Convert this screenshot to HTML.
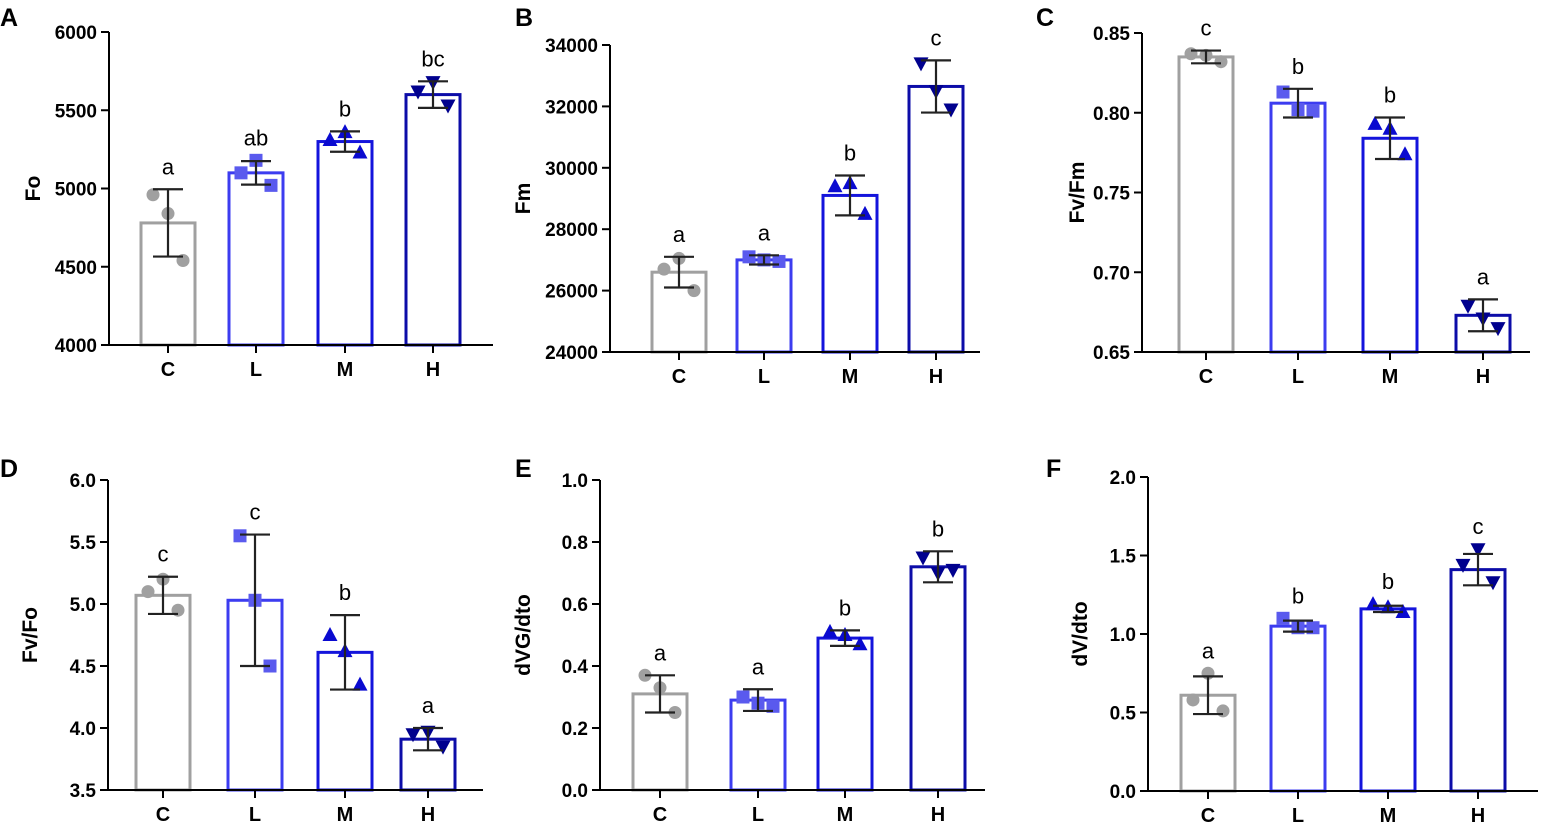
<!DOCTYPE html>
<html><head><meta charset="utf-8"><style>
body{margin:0;background:#fff;}
svg{display:block;font-family:"Liberation Sans",Arial,sans-serif;}
</style></head><body>
<svg id="fig" width="1552" height="832" viewBox="0 0 1552 832" xmlns="http://www.w3.org/2000/svg"></svg>
<script>
const categories = ["C","L","M","H"];
const aMeans=[4780,5100,5300,5600], aSd=[215,75,65,85], aPts=[[4960,4840,4540],[5100,5180,5020],[5310,5360,5230],[5620,5680,5530]], aLetters=["a","ab","b","bc"], aTicks=[4000,4500,5000,5500,6000];
const bMeans=[26600,27000,29100,32650], bSd=[500,150,650,850], bPts=[[26700,27050,26000],[27100,27000,26950],[29400,29500,28500],[33400,32500,31900]], bLetters=["a","a","b","c"], bTicks=[24000,26000,28000,30000,32000,34000];
const cMeans=[0.835,0.806,0.784,0.673], cSd=[0.004,0.009,0.013,0.01], cPts=[[0.837,0.836,0.832],[0.813,0.802,0.801],[0.793,0.790,0.774],[0.679,0.671,0.665]], cLetters=["c","b","b","a"], cTicks=[0.65,0.70,0.75,0.80,0.85];
const dMeans=[5.07,5.03,4.61,3.91], dSd=[0.15,0.53,0.3,0.09], dPts=[[5.1,5.2,4.95],[5.55,5.03,4.5],[4.75,4.62,4.35],[3.95,3.97,3.85]], dLetters=["c","c","b","a"], dTicks=[3.5,4.0,4.5,5.0,5.5,6.0];
const eMeans=[0.31,0.29,0.49,0.72], eSd=[0.06,0.035,0.025,0.05], ePts=[[0.37,0.33,0.25],[0.30,0.28,0.27],[0.51,0.50,0.47],[0.75,0.70,0.71]], eLetters=["a","a","b","b"], eTicks=[0,0.2,0.4,0.6,0.8,1.0];
const fMeans=[0.61,1.05,1.16,1.41], fSd=[0.12,0.035,0.02,0.1], fPts=[[0.58,0.75,0.51],[1.1,1.04,1.04],[1.19,1.17,1.14],[1.44,1.54,1.33]], fLetters=["a","b","b","c"], fTicks=[0,0.5,1.0,1.5,2.0];

const NS="http://www.w3.org/2000/svg";
const svg=document.getElementById('fig');
const barColors=["#a0a0a0","#3c3cf0","#1414dc","#0c0ca8"];
const ptColors=["#a0a0a0","#5a5aee","#0a0ad0","#00008e"];
function mk(tag,attrs,parent){const e=document.createElementNS(NS,tag);for(const k in attrs)e.setAttribute(k,attrs[k]);(parent||svg).appendChild(e);return e;}

const panels=[
 {id:"a",L:"A",lx:0,ly:26,title:"Fo",tx:40,ax:109,top:32,bot:345,end:493,cx:[168,256,345,433],m:aMeans,sd:aSd,p:aPts,let:aLetters,ticks:aTicks,dec:0},
 {id:"b",L:"B",lx:515,ly:26,title:"Fm",tx:530,ax:610,top:45,bot:352,end:980,cx:[679,764,850,936],m:bMeans,sd:bSd,p:bPts,let:bLetters,ticks:bTicks,dec:0},
 {id:"c",L:"C",lx:1036,ly:26,title:"Fv/Fm",tx:1084,ax:1142,top:33,bot:352,end:1530,cx:[1206,1298,1390,1483],m:cMeans,sd:cSd,p:cPts,let:cLetters,ticks:cTicks,dec:2},
 {id:"d",L:"D",lx:0,ly:477,title:"Fv/Fo",tx:37,ax:108,top:480,bot:790,end:483,cx:[163,255,345,428],m:dMeans,sd:dSd,p:dPts,let:dLetters,ticks:dTicks,dec:1},
 {id:"e",L:"E",lx:515,ly:477,title:"dVG/dto",tx:530,ax:600,top:480,bot:790,end:985,cx:[660,758,845,938],m:eMeans,sd:eSd,p:ePts,let:eLetters,ticks:eTicks,dec:1},
 {id:"f",L:"F",lx:1046,ly:477,title:"dV/dto",tx:1087,ax:1148,top:477,bot:791,end:1538,cx:[1208,1298,1388,1478],m:fMeans,sd:fSd,p:fPts,let:fLetters,ticks:fTicks,dec:1}
];

panels.forEach(P=>{
 const g=mk('g',{});
 
 
 const t0=P.ticks[0], t1=P.ticks[P.ticks.length-1];
 const y=v=>P.bot-(v-t0)/(t1-t0)*(P.bot-P.top);
 const lab=mk('text',{x:P.lx,y:P.ly,'font-size':25,'font-weight':'bold',fill:'#000'},g);lab.textContent=P.L;
 
 
 const ty=(P.top+P.bot)/2;
 const tt=mk('text',{x:P.tx,y:ty,'font-size':21,'font-weight':'bold','text-anchor':'middle',transform:`rotate(-90 ${P.tx} ${ty})`},g);tt.textContent=P.title;
 
 
 const bw=57;
 categories.forEach((c,i)=>{
  const cx=P.cx[i], yt=y(P.m[i]);
  const bar=mk('rect',{x:cx-bw/2+1.5,y:yt,width:bw-3,height:P.bot-yt,fill:'none',stroke:barColors[i],'stroke-width':3},g);
  
  
  P.p[i].forEach((v,j)=>{
   const px=cx+(j-1)*15, py=y(v); let s;
   if(i==0) s=mk('circle',{cx:px,cy:py,r:6.5,fill:ptColors[i]},g);
   else if(i==1) s=mk('rect',{x:px-6.5,y:py-6.5,width:13,height:13,fill:ptColors[i]},g);
   else if(i==2) s=mk('polygon',{points:`${px},${py-8} ${px-7.5},${py+6} ${px+7.5},${py+6}`,fill:ptColors[i]},g);
   else s=mk('polygon',{points:`${px},${py+8} ${px-7.5},${py-6} ${px+7.5},${py-6}`,fill:ptColors[i]},g);
   
   
  });
  const hi=y(P.m[i]+P.sd[i]), lo=y(P.m[i]-P.sd[i]);
  const eb=mk('path',{d:`M${cx},${hi}V${lo}M${cx-15},${hi}H${cx+15}M${cx-15},${lo}H${cx+15}`,stroke:'#222','stroke-width':2.2,fill:'none'},g);
  
  
  const sl=mk('text',{x:cx,y:Math.min(hi,y(Math.max(...P.p[i])))-15,'font-size':22,'text-anchor':'middle'},g);sl.textContent=P.let[i];
  
  
  mk('line',{x1:cx,x2:cx,y1:P.bot,y2:P.bot+8,stroke:'#000','stroke-width':2},g);
  const xl=mk('text',{x:cx,y:P.bot+31,'font-size':20,'font-weight':'bold','text-anchor':'middle'},g);xl.textContent=c;
  
  
 });
 P.ticks.forEach(v=>{
  const yy=y(v);
  mk('line',{x1:P.ax-8,x2:P.ax,y1:yy,y2:yy,stroke:'#000','stroke-width':2},g);
  const tl=mk('text',{x:P.ax-12,y:yy+7,'font-size':19,'font-weight':'bold','text-anchor':'end'},g);tl.textContent=v.toFixed(P.dec);
  
  
 });
 const axes=mk('path',{d:`M${P.ax},${P.top}V${P.bot}H${P.end}`,stroke:'#000','stroke-width':2,fill:'none'},g);
 
 
});
</script>
</body></html>
